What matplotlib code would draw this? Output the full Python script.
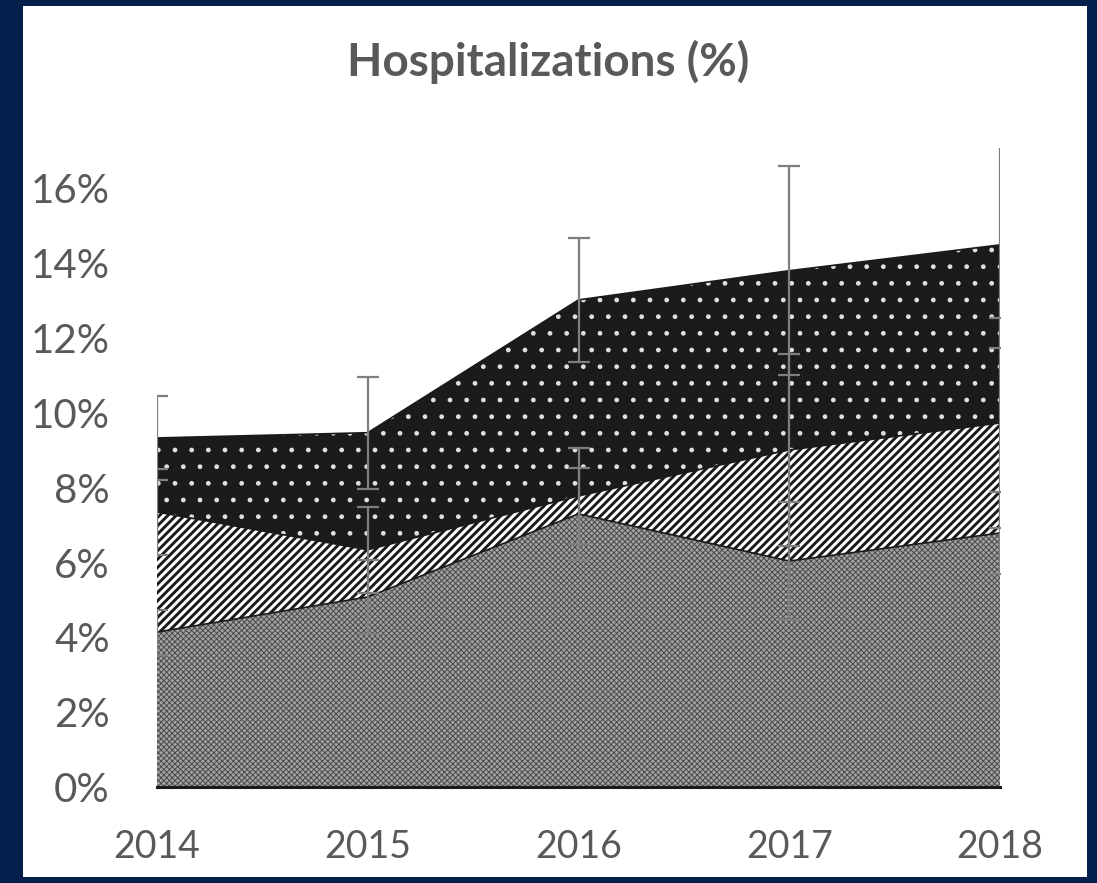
import matplotlib
matplotlib.use("Agg")
import matplotlib.pyplot as plt
import numpy as np

years = [2014, 2015, 2016, 2017, 2018]

# layer values in %, stacked bottom -> top
bottom = [4.14, 5.08, 7.30, 6.04, 6.79]
middle = [3.21, 1.26, 0.48, 2.97, 2.94]
top = [1.98, 3.13, 5.24, 4.79, 4.76]

# error bars (+/-) on each cumulative layer top
err_bottom = [0.6, 1.0, 1.23, 1.57, 1.1]
err_middle = [1.15, 1.15, 1.28, 2.57, 2.81]
err_top = [1.12, 1.5, 1.65, 2.8, 2.75]

yticks = [0, 2, 4, 6, 8, 10, 12, 14, 16]

navy = "#041f4b"
gray_txt = "#595959"

plt.rcParams['font.family'] = ['Lato', 'DejaVu Sans']

fig = plt.figure(figsize=(10.97, 8.83), dpi=100, facecolor=navy)

# white panel inside the navy frame
bg = fig.add_axes([23 / 1097, 6 / 883, (1087 - 23) / 1097, (877 - 6) / 883], zorder=-5)
bg.set_facecolor("white")
bg.set_xticks([])
bg.set_yticks([])
for s in bg.spines.values():
    s.set_visible(False)

ax = fig.add_axes([157 / 1097, 1 - 787 / 883, (1000 - 157) / 1097, (787 - 148) / 883])
ax.set_facecolor("none")

x = np.array(years)
c1 = np.array(bottom)
c2 = c1 + np.array(middle)
c3 = c2 + np.array(top)

plt.rcParams['hatch.linewidth'] = 0.7
ax.fill_between(x, 0, c1, facecolor="#a2a2a2", edgecolor="#4a4a4a",
                hatch="xxxxxx", linewidth=0, zorder=1)
plt.rcParams['hatch.linewidth'] = 2.1
ax.fill_between(x, c1, c2, facecolor="white", edgecolor="#1a1a1a",
                hatch="////", linewidth=0, zorder=1)
plt.rcParams['hatch.linewidth'] = 1.0
ax.fill_between(x, c2, c3, facecolor="#1b1b1b", edgecolor="#e0e0e0",
                hatch=".", linewidth=0, zorder=1)

for c in (c1, c2, c3):
    ax.plot(x, c, color="#1a1a1a", lw=1.2, zorder=2)

for c, e in ((c1, err_bottom), (c2, err_middle), (c3, err_top)):
    ax.errorbar(x, c, yerr=e, fmt="none", ecolor="#7f7f7f", elinewidth=1.6,
                capsize=8, capthick=1.6, zorder=3)

ax.set_xlim(2014, 2018)
ax.set_ylim(0, 17.08)
ax.set_yticks(yticks)
ax.set_yticklabels([f"{v}%" for v in yticks])
ax.set_xticks(years)
ax.set_xticklabels([str(y) for y in years])
ax.tick_params(axis="both", length=0, labelsize=27, colors=gray_txt)
ax.tick_params(axis="y", pad=34, labelsize=29)
ax.tick_params(axis="x", pad=30)
for s in ("left", "right", "top"):
    ax.spines[s].set_visible(False)
ax.spines["bottom"].set_color("#1a1a1a")
ax.spines["bottom"].set_linewidth(2.2)

fig.text(548 / 1097, 1 - 62 / 883, "Hospitalizations (%)", ha="center", va="center",
         fontsize=33, fontweight="bold", color=gray_txt)

fig.savefig("out.png", dpi=100, facecolor=navy)
